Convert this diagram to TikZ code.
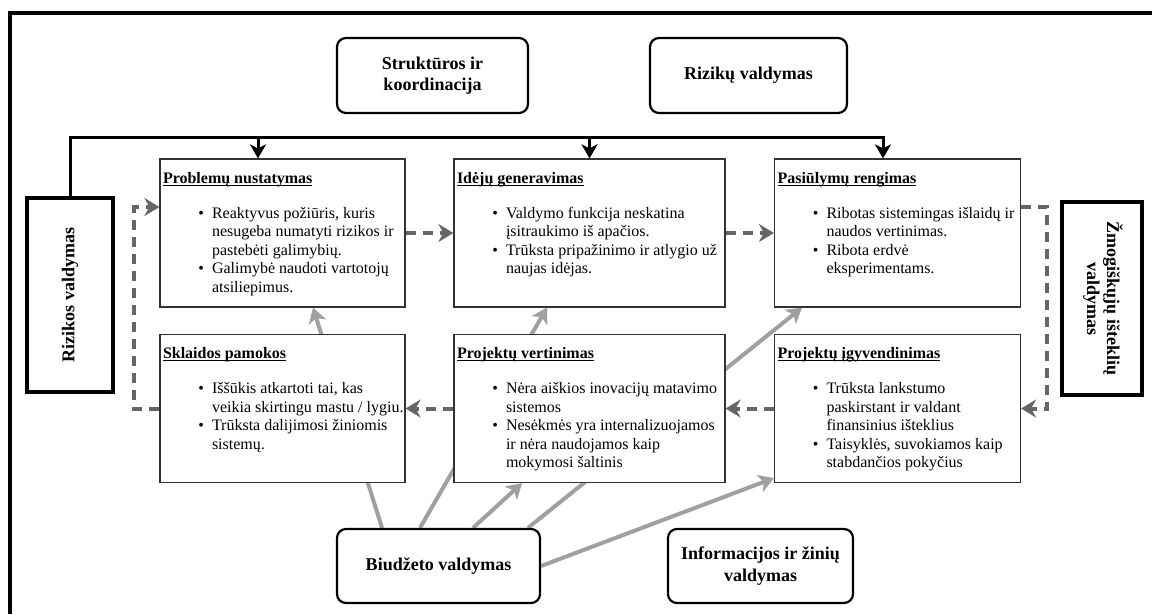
\documentclass[tikz,border=0pt]{standalone}
\usepackage{fontspec}
\setmainfont{Liberation Serif}
\usepackage{graphicx}
\usetikzlibrary{positioning, arrows.meta, calc, backgrounds}
\definecolor{dashgray}{HTML}{666666}
\definecolor{feedgray}{HTML}{A0A0A0}
\definecolor{boxedge}{HTML}{333333}
\newenvironment{gaplist}{\begin{list}{\textbullet}{\setlength{\leftmargin}{49pt}%
  \setlength{\labelsep}{8pt}\setlength{\labelwidth}{20pt}\setlength{\topsep}{16.5pt}%
  \setlength{\itemsep}{0pt}\setlength{\parsep}{0pt}\setlength{\partopsep}{0pt}%
  \setlength{\rightmargin}{-40pt}}}{\end{list}}
\newcommand{\headline}[1]{\setbox0\hbox{\textbf{#1}}\rlap{\rule[-2.5pt]{\wd0}{0.9pt}}\box0}
\newcommand{\stagetext}[3]{\makebox[#1][l]{\begin{minipage}[t][148pt][t]{#1}%
  \fontsize{16}{18.5}\selectfont\rule{0pt}{24pt}\headline{#2}%
  \begin{gaplist}#3\end{gaplist}\end{minipage}}}

\begin{document}
\begin{tikzpicture}[x=1pt, y=-1pt,
    stagebox/.style={draw=boxedge, line width=1.2pt, fill=white, inner xsep=3pt, inner ysep=0pt},
    softbox/.style={draw, rounded corners=9pt, line width=2.2pt, fill=white, align=center,
      font=\fontsize{18}{21.5}\selectfont\bfseries, minimum height=75pt},
    sidebox/.style={draw, line width=4pt, fill=white, inner sep=0pt,
      font=\fontsize{18}{20}\selectfont\bfseries},
    bus/.style={line width=3pt, -{Stealth[length=14pt,width=16pt,inset=4pt]}},
    dashflow/.style={dashgray, line width=4pt, dash pattern=on 10pt off 7pt,
      -{Stealth[length=15pt,width=18pt,inset=5pt]}},
    feed/.style={feedgray, line width=4pt, -{Stealth[length=15pt,width=18pt,inset=4pt]}}]
  \useasboundingbox (0,0) rectangle (1152,614);
  \draw[line width=3.5pt] (10,614) -- (10,13) -- (1152,13);

  \node[softbox, minimum width=191pt] (struct) at (432.5,75.5) {Struktūros ir\\koordinacija};
  \node[softbox, minimum width=197pt] (riskmgmt) at (748.5,75.5) {Rizikų valdymas};
  \node[softbox, minimum width=203pt, minimum height=74pt] (budget) at (438.5,566) {Biudžeto valdymas};
  \node[softbox, minimum width=185pt, minimum height=74pt] (infomgmt) at (760.5,566)
    {Informacijos ir žinių\\valdymas};

  \node[sidebox, minimum width=86pt, minimum height=194pt] (riskctl) at (70,295)
    {\rotatebox{90}{Rizikos valdymas}};
  \node[sidebox, minimum width=80pt, minimum height=193pt] (human) at (1102,298.5)
    {\rotatebox{-90}{\begin{tabular}{@{}c@{}}Žmogiškųjų išteklių\\valdymas\end{tabular}}};

  \node[stagebox] (probl) at (282.5,233) {\stagetext{239pt}{Problemų nustatymas}{%
    \item Reaktyvus požiūris, kuris\\ nesugeba numatyti rizikos ir\\ pastebėti galimybių.
    \item Galimybė naudoti vartotojų\\ atsiliepimus.}};
  \node[stagebox] (idea) at (589.5,233) {\stagetext{265pt}{Idėjų generavimas}{%
    \item Valdymo funkcija neskatina\\ įsitraukimo iš apačios.
    \item Trūksta pripažinimo ir atlygio už\\ naujas idėjas.}};
  \node[stagebox] (recom) at (897.5,233) {\stagetext{240pt}{Pasiūlymų rengimas}{%
    \item Ribotas sistemingas išlaidų ir\\ naudos vertinimas.
    \item Ribota erdvė\\ eksperimentams.}};
  \node[stagebox] (lessons) at (282.5,408.5) {\stagetext{239pt}{Sklaidos pamokos}{%
    \item Iššūkis atkartoti tai, kas\\ veikia skirtingu mastu / lygiu.
    \item Trūksta dalijimosi žiniomis\\ sistemų.}};
  \node[stagebox] (eval) at (589.5,408.5) {\stagetext{265pt}{Projektų vertinimas}{%
    \item Nėra aiškios inovacijų matavimo\\ sistemos
    \item Nesėkmės yra internalizuojamos\\ ir nėra naudojamos kaip\\ mokymosi šaltinis}};
  \node[stagebox] (impl) at (897.5,408.5) {\stagetext{240pt}{Projektų įgyvendinimas}{%
    \item Trūksta lankstumo\\ paskirstant ir valdant\\ finansinius išteklius
    \item Taisyklės, suvokiamos kaip\\ stabdančios pokyčius}};

  \coordinate (bustop) at (0,137);
  \coordinate (probltop) at ([xshift=-24.5pt]probl.north);
  \coordinate (recomtop) at ([xshift=-14.5pt]recom.north);
  \draw[bus] (riskctl.north) |- (recomtop |- bustop) -- (recomtop);
  \draw[bus] (probltop |- bustop) -- (probltop);
  \draw[bus] (idea.north |- bustop) -- (idea.north);

  \draw[dashflow] (probl.east) -- (idea.west);
  \draw[dashflow] (idea.east) -- (recom.west);
  \draw[dashflow] ([yshift=26pt]recom.east) -- ++(26,0) |- (impl.east);
  \draw[dashflow] (impl.west) -- (eval.east);
  \draw[dashflow] (eval.west) -- (lessons.east);
  \draw[dashflow] (lessons.west) -- ++(-25,0) |- ([yshift=26pt]probl.west);

  \begin{scope}[on background layer]
    \draw[feed] ([xshift=-56.5pt]budget.north) -- ([xshift=30.5pt]probl.south);
    \draw[feed] ([xshift=-18.5pt]budget.north) -- ([xshift=-42.5pt]idea.south);
    \draw[feed] ([xshift=34.5pt]budget.north) -- ([xshift=-67.5pt]eval.south);
    \draw[feed] ([xshift=89.5pt]budget.north) -- ([xshift=-95.5pt]recom.south);
    \draw[feed] (budget.east) -- ([yshift=5pt]impl.south west);
  \end{scope}
\end{tikzpicture}
\end{document}
